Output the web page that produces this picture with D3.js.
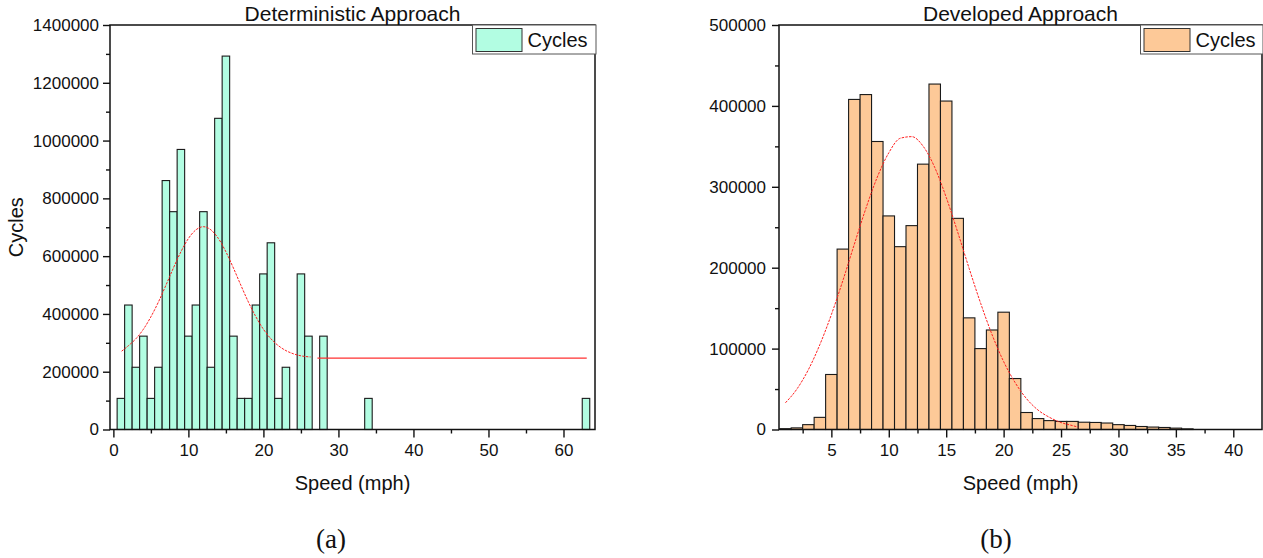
<!DOCTYPE html>
<html>
<head>
<meta charset="utf-8">
<script src="https://cdn.jsdelivr.net/npm/d3@7"></script>
<style>
  html, body { margin: 0; padding: 0; background: #fff; }
  svg { display: block; }
  text { font-family: "Liberation Sans", Arial, sans-serif; fill: #111; }
</style>
</head>
<body>
<svg id="chart" width="1263" height="558"></svg>
<script>
// Deterministic approach: 1-mph speed bins and cycle counts
const detSpeed  = [1, 2, 3, 4, 5, 6, 7, 8, 9, 10, 11, 12, 13, 14, 15, 16, 17, 18, 19, 20, 21, 22, 23, 25, 26, 28, 34, 63];
const detCycles = [107700, 430800, 215400, 323100, 107700, 215400, 861600, 753900, 969300, 323100,
                   430800, 753900, 215400, 1077000, 1292400, 323100, 107700, 107700, 430800, 538500,
                   646200, 107700, 215400, 538500, 323100, 323100, 107700, 107700];
// Gaussian fit, deterministic approach
const detFitSpeed  = [1.1, 2, 3, 4, 5, 6, 7, 8, 9, 10, 11, 12, 13, 14, 15, 16, 17, 18, 19, 20, 21, 22, 23, 24, 25, 26.3];
const detFitCycles = [271000, 290000, 314000, 347000, 390000, 441000, 499000, 559000, 615000, 661000,
                      691000, 702000, 691000, 661000, 615000, 559000, 499000, 441000, 390000, 347000,
                      314000, 290000, 273000, 262000, 255000, 251000];
const detTailSpeed  = [27.2, 63.1];
const detTailCycles = [247000, 247000];

// Developed approach: 1-mph speed bins and cycle counts
const devSpeed  = [1, 2, 3, 4, 5, 6, 7, 8, 9, 10, 11, 12, 13, 14, 15, 16, 17, 18, 19, 20, 21, 22, 23, 24,
                   25, 26, 27, 28, 29, 30, 31, 32, 33, 34, 35, 36];
const devCycles = [1000, 2000, 6000, 15000, 68000, 223000, 408000, 414000, 356000, 264000, 226000, 252000,
                   328000, 427000, 406000, 261000, 138000, 100000, 123000, 145000, 63000, 21000, 13500, 11000,
                   10000, 10000, 9000, 8700, 8000, 6000, 5000, 3700, 3000, 2500, 1700, 800];
// Gaussian fit, developed approach
const devFitSpeed  = [1, 2, 3, 4, 5, 6, 7, 8, 9, 10, 11, 12, 13, 14, 15, 16, 17, 18, 19, 20, 21, 22, 23, 24, 25, 26, 26.5];
const devFitCycles = [33000, 50000, 74000, 105000, 142000, 184000, 229000, 273000, 312000, 342000, 360000,
                      362000, 350000, 324000, 287000, 244000, 199000, 156000, 117000, 84000, 58000, 38000,
                      24000, 15000, 8600, 4800, 2900];

// Tick labels
const detXTicks = [0, 10, 20, 30, 40, 50, 60];
const detXMinor = [5, 15, 25, 35, 45, 55];
const detYTicks = [0, 200000, 400000, 600000, 800000, 1000000, 1200000, 1400000];
const detYMinor = [100000, 300000, 500000, 700000, 900000, 1100000, 1300000];
const devXTicks = [5, 10, 15, 20, 25, 30, 35, 40];
const devXMinor = [2.5, 7.5, 12.5, 17.5, 22.5, 27.5, 32.5, 37.5];
const devYTicks = [0, 100000, 200000, 300000, 400000, 500000];
const devYMinor = [50000, 150000, 250000, 350000, 450000];

const titles = ["Deterministic Approach", "Developed Approach"];
const xLabel = "Speed (mph)";
const yLabel = "Cycles";
const legendLabel = "Cycles";
const captions = ["(a)", "(b)"];

const svg = d3.select("#chart");
svg.append("rect").attr("width", 1263).attr("height", 558).attr("fill", "#fff");

function drawPanel(p) {
  const g = svg.append("g");
  const x = d3.scaleLinear().domain(p.xDomain).range([p.left, p.right]);
  const y = d3.scaleLinear().domain(p.yDomain).range([p.bottom, p.top]);

  // bars
  g.append("g").selectAll("rect")
    .data(p.speed.map((s, i) => ({ s, v: p.cycles[i] })))
    .join("rect")
    .attr("x", d => x(d.s - 0.5))
    .attr("width", d => x(d.s + 0.5) - x(d.s - 0.5))
    .attr("y", d => y(d.v))
    .attr("height", d => y(0) - y(d.v))
    .attr("fill", p.fill)
    .attr("stroke", "#1a1a1a")
    .attr("stroke-width", 1.1);

  // fit curve
  const line = d3.line().x(d => x(d[0])).y(d => y(d[1])).curve(d3.curveMonotoneX);
  g.append("path")
    .attr("d", line(p.fitSpeed.map((s, i) => [s, p.fitCycles[i]])))
    .attr("fill", "none").attr("stroke", "#ff2020")
    .attr("stroke-width", 1).attr("stroke-dasharray", "2.5,1.2");
  if (p.tailSpeed) {
    g.append("path")
      .attr("d", d3.line().x(d => x(d[0])).y(d => y(d[1]))(p.tailSpeed.map((s, i) => [s, p.tailCycles[i]])))
      .attr("fill", "none").attr("stroke", "#ff3030").attr("stroke-width", 1.3);
  }

  // axes
  const ax = g.append("g").attr("transform", `translate(0,${p.bottom})`)
    .call(d3.axisBottom(x).tickValues(p.xTicks).tickSize(8).tickPadding(6).tickFormat(d3.format("d")));
  const axm = g.append("g").attr("transform", `translate(0,${p.bottom})`)
    .call(d3.axisBottom(x).tickValues(p.xMinor).tickSize(4).tickFormat(""));
  const ay = g.append("g").attr("transform", `translate(${p.left},0)`)
    .call(d3.axisLeft(y).tickValues(p.yTicks).tickSize(7).tickPadding(p.yPad).tickFormat(d3.format("d")));
  const aym = g.append("g").attr("transform", `translate(${p.left},0)`)
    .call(d3.axisLeft(y).tickValues(p.yMinor).tickSize(4).tickFormat(""));
  [ax, axm, ay, aym].forEach(a => {
    a.select(".domain").remove();
    a.selectAll("line").attr("stroke", "#111").attr("stroke-width", 1.4);
    a.selectAll("text").attr("font-size", 17).attr("font-family", "Liberation Sans, Arial, sans-serif").attr("fill", "#111");
  });

  // frame
  g.append("rect")
    .attr("x", p.left).attr("y", p.top)
    .attr("width", p.right - p.left).attr("height", p.bottom - p.top)
    .attr("fill", "none").attr("stroke", "#111").attr("stroke-width", 1.5);

  // title
  g.append("text").attr("x", (p.left + p.right) / 2).attr("y", 21)
    .attr("text-anchor", "middle").attr("font-size", 21).text(p.title);

  // x label
  g.append("text").attr("x", (p.left + p.right) / 2).attr("y", 490)
    .attr("text-anchor", "middle").attr("font-size", 20).text(xLabel);

  // y label
  if (p.showYLabel) {
    g.append("text").attr("transform", `translate(23,${(p.top + p.bottom) / 2}) rotate(-90)`)
      .attr("text-anchor", "middle").attr("font-size", 20).text(yLabel);
  }

  // legend
  const lg = g.append("g");
  lg.append("rect").attr("x", p.legendX).attr("y", p.top)
    .attr("width", p.right + 1 - p.legendX).attr("height", 29)
    .attr("fill", "#fff").attr("stroke", "#555").attr("stroke-width", 1);
  lg.append("rect").attr("x", p.legendX + 3.5).attr("y", p.top + 3.5)
    .attr("width", 46).attr("height", 23)
    .attr("fill", p.fill).attr("stroke", "#333").attr("stroke-width", 1);
  lg.append("text").attr("x", p.legendX + 55).attr("y", p.top + 22)
    .attr("font-size", 20).text(legendLabel);

  // caption
  svg.append("text").attr("x", p.captionX).attr("y", 548)
    .attr("text-anchor", "middle").attr("font-size", 27)
    .style("font-family", "'Liberation Serif', 'Times New Roman', serif").text(p.caption);
}

drawPanel({
  left: 110, right: 595, top: 25, bottom: 429.5,
  xDomain: [-0.45, 64.2], yDomain: [0, 1400000],
  speed: detSpeed, cycles: detCycles,
  fitSpeed: detFitSpeed, fitCycles: detFitCycles,
  tailSpeed: detTailSpeed, tailCycles: detTailCycles,
  xTicks: detXTicks, xMinor: detXMinor, yTicks: detYTicks, yMinor: detYMinor,
  yPad: 4, fill: "#b2fde2", title: titles[0], showYLabel: true,
  legendX: 472.5, caption: captions[0], captionX: 331
});

drawPanel({
  left: 779, right: 1262, top: 25, bottom: 429.5,
  xDomain: [0.44, 42.5], yDomain: [0, 500000],
  speed: devSpeed, cycles: devCycles,
  fitSpeed: devFitSpeed, fitCycles: devFitCycles,
  xTicks: devXTicks, xMinor: devXMinor, yTicks: devYTicks, yMinor: devYMinor,
  yPad: 6, fill: "#fdc998", title: titles[1], showYLabel: false,
  legendX: 1140.5, caption: captions[1], captionX: 996
});
</script>
</body>
</html>
